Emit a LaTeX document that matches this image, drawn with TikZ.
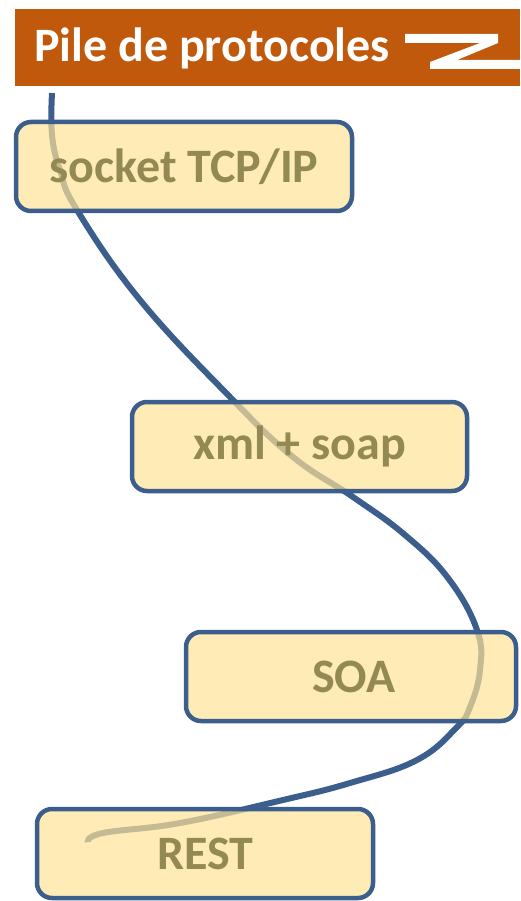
\documentclass[tikz,border=0pt]{standalone}
\usepackage{fontspec}
\setmainfont{Carlito}
\definecolor{headbg}{HTML}{C0590B}
\definecolor{stroke}{HTML}{3B5E8C}
\definecolor{boxfill}{HTML}{FFE297}
\definecolor{boxtext}{HTML}{938953}
\tikzset{
  layer/.style={draw=stroke, line width=4.5pt, rounded corners=15pt,
    fill=boxfill, fill opacity=0.7, text opacity=1, text=boxtext,
    inner sep=0pt, font=\bfseries\fontsize{48}{56}\selectfont},
  flow/.style={draw=stroke, line width=6pt, line cap=butt}
}
\begin{document}
\begin{tikzpicture}[x=1pt,y=-1pt]
\useasboundingbox (0,0) rectangle (520,901);
% title bar
\fill[headbg] (15,9) rectangle (520,86);
\node[anchor=west, text=white, font=\bfseries\fontsize{48}{56}\selectfont, inner sep=0pt]
  (title) at (34,48) {Pile de protocoles};
\fill[white] (405,34) -- (498,34) -- (498,43) -- (457,60) -- (520,60) -- (520,69)
  -- (430,69) -- (430,62) -- (480,43) -- (405,43) -- cycle;
% the winding line through the stack
\draw[flow] plot[smooth, tension=0.7] coordinates {
  (52,93) (52,135) (60,170) (77,210) (140,300) (230,397) (293,457) (353,497)
  (405,535) (448,578) (477,630) (480,670) (470,707) (457,727) (417,760)
  (350,783) (283,800) (180,823) (103,833) (88,842)};
% protocol layers
\node[layer, minimum width=336pt, minimum height=89pt] (tcp) at (184,166.5) {\raisebox{-3pt}{socket TCP/IP}};
\node[layer, minimum width=335pt, minimum height=89pt] (xml) at (299.5,446.5) {\raisebox{-2pt}{xml + soap}};
\node[layer, minimum width=330pt, minimum height=89pt] (soa) at (351,676.5) {\hspace*{6pt}\raisebox{-2pt}{SOA}};
\node[layer, minimum width=336pt, minimum height=89pt] (rest) at (205,853.5) {\raisebox{-2pt}{REST}};
\end{tikzpicture}
\end{document}
